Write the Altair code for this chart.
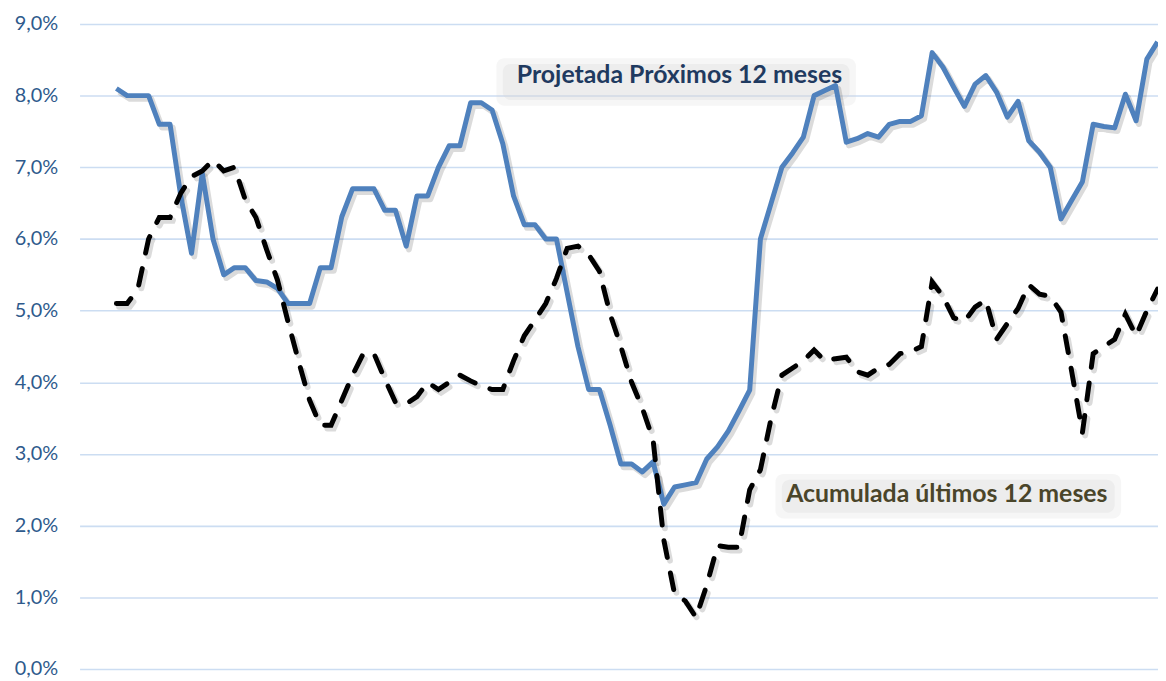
import altair as alt
import pandas as pd

# Projetada próximos 12 meses (%)
proj = [8.1, 8.0, 8.0, 8.0, 7.6, 7.6, 6.6, 5.8, 6.92, 6.0,
        5.5, 5.6, 5.6, 5.42, 5.4, 5.31, 5.1, 5.1, 5.1, 5.6,
        5.6, 6.31, 6.7, 6.7, 6.7, 6.4, 6.4, 5.9, 6.6, 6.6,
        7.0, 7.3, 7.3, 7.9, 7.9, 7.8, 7.33, 6.6, 6.2, 6.2,
        6.0, 6.0, 5.25, 4.5, 3.9, 3.9, 3.4, 2.86, 2.86, 2.75,
        2.89, 2.3, 2.54, 2.57, 2.6, 2.93, 3.1, 3.32, 3.6, 3.89,
        6.0, 6.5, 7.0, 7.2, 7.42, 8.0, 8.07, 8.14, 7.35, 7.4,
        7.47, 7.42, 7.6, 7.64, 7.64, 7.72, 8.6, 8.4, 8.12, 7.85,
        8.16, 8.28, 8.05, 7.7, 7.92, 7.37, 7.21, 7.0, 6.28, 6.54,
        6.8, 7.6, 7.57, 7.55, 8.02, 7.65, 8.51, 8.75]

# Acumulada últimos 12 meses (%)
acum = [5.1, 5.1, 5.3, 6.0, 6.3, 6.3, 6.64, 6.87, 6.95, 7.1,
        6.95, 7.0, 6.55, 6.3, 5.85, 5.43, 4.84, 4.28, 3.75, 3.4,
        3.4, 3.75, 4.1, 4.4, 4.4, 4.05, 3.72, 3.7, 3.8, 4.0,
        3.9, 4.0, 4.1, 4.02, 3.95, 3.9, 3.9, 4.3, 4.65, 4.87,
        5.1, 5.45, 5.87, 5.9, 5.78, 5.55, 4.95, 4.5, 4.0, 3.64,
        3.2, 1.8, 1.05, 0.95, 0.72, 1.17, 1.72, 1.7, 1.7, 2.5,
        2.78, 3.5, 4.1, 4.2, 4.3, 4.45, 4.3, 4.33, 4.35, 4.15,
        4.1, 4.2, 4.25, 4.4, 4.43, 4.5, 5.4, 5.2, 4.9, 4.85,
        5.05, 5.15, 4.6, 4.82, 5.03, 5.36, 5.23, 5.2, 4.98, 4.15,
        3.3, 4.4, 4.5, 4.6, 4.95, 4.65, 5.0, 5.3]

y_ticks = [0, 1, 2, 3, 4, 5, 6, 7, 8, 9]
label_texts = ["Projetada Próximos 12 meses", "Acumulada últimos 12 meses"]
label_colors = ["#1F3A60", "#4A452A"]
label_x = [37.3, 62.4]
label_y = [8.18, 2.33]
# soft grey glow behind the labels (annotation extents, in data units)
box_x = [35.4, 61.4, 36.0, 62.0]
box_x2 = [68.9, 93.6, 68.3, 93.0]
box_y = [7.86, 2.10, 7.94, 2.18]
box_y2 = [8.52, 2.72, 8.44, 2.64]
box_op = [0.22, 0.22, 0.3, 0.3]

df = pd.DataFrame({"i": list(range(len(proj))), "proj": proj, "acum": acum})
lab = pd.DataFrame({"x": label_x, "y": label_y, "t": label_texts, "c": label_colors})
boxes = pd.DataFrame({"x": box_x, "x2": box_x2, "y": box_y, "y2": box_y2, "op": box_op})

xscale = alt.Scale(domain=[-3.43, 97.04], nice=False, zero=False)
yscale = alt.Scale(domain=[0, 9], nice=False)

yaxis = alt.Axis(
    values=y_ticks,
    labelExpr="replace(format(datum.value, '.1f'), '.', ',') + '%'",
    ticks=False, domain=False, labelPadding=22,
    labelFont="Lato", labelFontSize=20, labelColor="#2E5A8C",
    gridColor="#CCDDF2", gridWidth=1.6, title=None,
)

base = alt.Chart(df)

box_layer = alt.Chart(boxes).mark_rect(fill="#D8D8D8", cornerRadius=8).encode(
    x=alt.X("x:Q", scale=xscale, axis=None), x2="x2:Q",
    y=alt.Y("y:Q", scale=yscale, axis=yaxis), y2="y2:Q",
    opacity=alt.Opacity("op:Q", scale=None, legend=None),
)

shadow_p = base.transform_calculate(xs="datum.i + 0.25", ys="datum.proj - 0.045").mark_line(
    color="#000000", opacity=0.14, strokeWidth=6, strokeJoin="round", clip=True
).encode(x=alt.X("xs:Q", scale=xscale, axis=None), y=alt.Y("ys:Q", scale=yscale))

shadow_a = base.transform_calculate(xs="datum.i + 0.25", ys="datum.acum - 0.045").mark_line(
    color="#000000", opacity=0.14, strokeWidth=6, strokeDash=[17, 16], strokeCap="round", clip=True
).encode(x=alt.X("xs:Q", scale=xscale, axis=None), y=alt.Y("ys:Q", scale=yscale))

line_p = base.mark_line(color="#4F81BD", strokeWidth=5, strokeJoin="round", clip=True).encode(
    x=alt.X("i:Q", scale=xscale, axis=None), y=alt.Y("proj:Q", scale=yscale)
)

line_a = base.mark_line(color="#000000", strokeWidth=5, strokeDash=[17, 16], strokeCap="round", clip=True).encode(
    x=alt.X("i:Q", scale=xscale, axis=None), y=alt.Y("acum:Q", scale=yscale)
)

texts = alt.Chart(lab).mark_text(
    font="Lato", fontWeight="bold", fontSize=25, align="left", baseline="alphabetic"
).encode(
    x=alt.X("x:Q", scale=xscale, axis=None),
    y=alt.Y("y:Q", scale=yscale),
    text="t:N",
    color=alt.Color("c:N", scale=None, legend=None),
)

chart = alt.layer(box_layer, shadow_p, shadow_a, line_p, line_a, texts).properties(
    width=1085, height=649,
    autosize=alt.AutoSizeParams(type="none"),
    padding={"left": 72, "top": 14, "right": 0, "bottom": 10},
    background="white",
).configure_view(stroke=None)

chart.save("out.html", embed_options={"renderer": "svg", "actions": False})
